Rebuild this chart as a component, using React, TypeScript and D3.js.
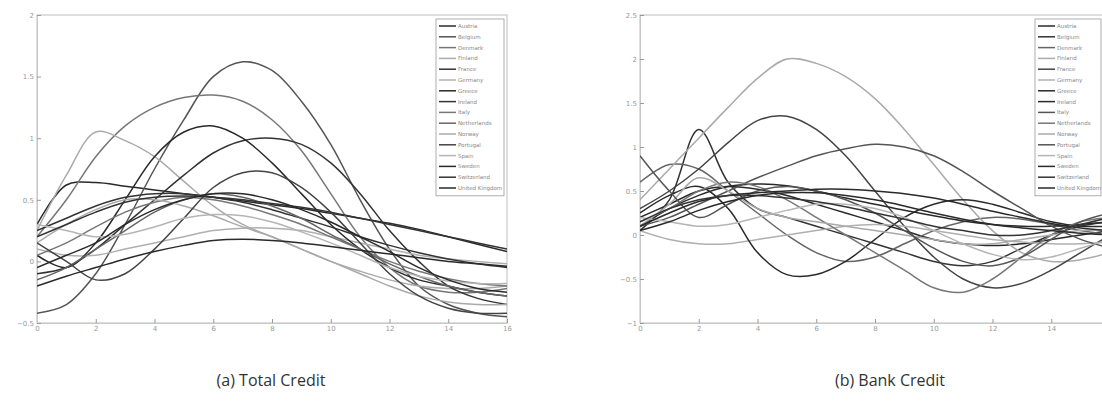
import React, { useRef, useEffect } from 'react';
import * as d3 from 'd3';

const countries = ['Austria', 'Belgium', 'Denmark', 'Finland', 'France', 'Germany', 'Greece', 'Ireland',
  'Italy', 'Netherlands', 'Norway', 'Portugal', 'Spain', 'Sweden', 'Switzerland', 'United Kingdom'];
const horizon = d3.range(0, 17);
const totalXTicks = [0, 2, 4, 6, 8, 10, 12, 14, 16];
const bankXTicks = [0, 2, 4, 6, 8, 10, 12, 14];
const totalYTicks = [-0.5, 0, 0.5, 1, 1.5, 2];
const bankYTicks = [-1, -0.5, 0, 0.5, 1, 1.5, 2, 2.5];

// (a) Total Credit, one value per quarter 0..16
const tcAustria = [0.3, 0.62, 0.64, 0.61, 0.58, 0.55, 0.52, 0.49, 0.46, 0.43, 0.39, 0.35, 0.31, 0.26, 0.2, 0.14, 0.08];
const tcBelgium = [-0.42, -0.35, -0.1, 0.3, 0.75, 1.15, 1.5, 1.62, 1.55, 1.3, 0.95, 0.5, 0.1, -0.2, -0.35, -0.42, -0.45];
const tcDenmark = [0.2, 0.5, 0.85, 1.1, 1.25, 1.33, 1.35, 1.3, 1.15, 0.9, 0.55, 0.2, -0.05, -0.2, -0.25, -0.25, -0.22];
const tcFinland = [0.25, 0.7, 1.05, 0.98, 0.85, 0.65, 0.45, 0.3, 0.2, 0.1, 0.0, -0.08, -0.15, -0.2, -0.22, -0.22, -0.2];
const tcFrance = [-0.1, -0.05, 0.1, 0.3, 0.5, 0.7, 0.88, 0.98, 1.0, 0.95, 0.8, 0.55, 0.25, 0.0, -0.2, -0.3, -0.35];
const tcGermany = [0.1, 0.05, 0.05, 0.1, 0.15, 0.2, 0.25, 0.27, 0.27, 0.25, 0.2, 0.15, 0.1, 0.05, 0.02, 0.0, -0.02];
const tcGreece = [0.05, -0.05, 0.15, 0.5, 0.85, 1.05, 1.1, 1.0, 0.8, 0.55, 0.3, 0.1, -0.05, -0.15, -0.2, -0.25, -0.28];
const tcIreland = [0.25, 0.35, 0.45, 0.52, 0.55, 0.55, 0.52, 0.48, 0.42, 0.35, 0.28, 0.2, 0.13, 0.07, 0.02, -0.02, -0.05];
const tcItaly = [0.05, 0.15, 0.28, 0.4, 0.48, 0.52, 0.5, 0.45, 0.38, 0.3, 0.2, 0.1, 0.0, -0.08, -0.14, -0.18, -0.2];
const tcNetherlands = [-0.15, -0.05, 0.1, 0.25, 0.4, 0.5, 0.55, 0.52, 0.45, 0.35, 0.22, 0.1, -0.02, -0.12, -0.2, -0.25, -0.28];
const tcNorway = [0.15, 0.3, 0.42, 0.5, 0.5, 0.45, 0.37, 0.28, 0.2, 0.1, 0.0, -0.1, -0.2, -0.28, -0.33, -0.35, -0.35];
const tcPortugal = [0.15, 0.0, -0.15, -0.1, 0.1, 0.35, 0.6, 0.72, 0.72, 0.6, 0.4, 0.15, -0.1, -0.28, -0.38, -0.42, -0.42];
const tcSpain = [0.3, 0.25, 0.2, 0.22, 0.28, 0.35, 0.38, 0.37, 0.32, 0.24, 0.15, 0.05, -0.05, -0.12, -0.16, -0.18, -0.18];
const tcSweden = [-0.2, -0.12, -0.05, 0.02, 0.08, 0.13, 0.17, 0.18, 0.17, 0.15, 0.12, 0.09, 0.06, 0.03, 0.0, -0.02, -0.04];
const tcSwitzerland = [0.2, 0.3, 0.4, 0.48, 0.52, 0.53, 0.52, 0.5, 0.47, 0.44, 0.4, 0.35, 0.3, 0.25, 0.2, 0.15, 0.1];
const tcUK = [-0.05, 0.05, 0.15, 0.3, 0.42, 0.5, 0.55, 0.55, 0.5, 0.42, 0.32, 0.2, 0.08, -0.05, -0.15, -0.22, -0.25];

// (b) Bank Credit
const bcAustria = [0.2, 0.35, 0.5, 0.55, 0.52, 0.45, 0.35, 0.25, 0.15, 0.05, -0.05, -0.1, -0.12, -0.1, -0.05, 0.0, 0.05];
const bcBelgium = [0.05, 0.4, 1.2, 0.6, 0.3, 0.2, 0.1, 0.0, -0.1, -0.2, -0.3, -0.35, -0.3, -0.15, 0.0, 0.1, 0.15];
const bcDenmark = [0.6, 0.8, 0.75, 0.5, 0.25, 0.0, -0.2, -0.3, -0.25, -0.1, 0.05, 0.15, 0.2, 0.18, 0.12, 0.05, 0.0];
const bcFinland = [0.4, 0.75, 1.1, 1.45, 1.78, 2.0, 1.95, 1.8, 1.55, 1.2, 0.8, 0.4, 0.05, -0.2, -0.3, -0.28, -0.2];
const bcFrance = [0.3, 0.5, 0.75, 1.05, 1.3, 1.35, 1.2, 0.9, 0.5, 0.1, -0.25, -0.5, -0.6, -0.55, -0.4, -0.2, 0.0];
const bcGermany = [0.05, -0.05, -0.1, -0.1, -0.05, 0.0, 0.05, 0.1, 0.12, 0.1, 0.05, 0.0, -0.05, -0.08, -0.1, -0.1, -0.08];
const bcGreece = [0.25, 0.45, 0.55, 0.3, -0.2, -0.45, -0.45, -0.3, -0.05, 0.2, 0.35, 0.4, 0.35, 0.25, 0.15, 0.1, 0.1];
const bcIreland = [0.1, 0.3, 0.45, 0.55, 0.58, 0.56, 0.5, 0.42, 0.35, 0.28, 0.22, 0.16, 0.12, 0.1, 0.1, 0.12, 0.15];
const bcItaly = [0.1, 0.2, 0.35, 0.5, 0.65, 0.78, 0.9, 0.98, 1.03, 1.0, 0.9, 0.72, 0.5, 0.3, 0.1, -0.05, -0.15];
const bcNetherlands = [0.15, 0.3, 0.5, 0.6, 0.55, 0.4, 0.2, 0.0, -0.2, -0.4, -0.6, -0.65, -0.5, -0.25, 0.0, 0.15, 0.2];
const bcNorway = [0.1, 0.35, 0.65, 0.5, 0.3, 0.2, 0.15, 0.1, 0.05, 0.0, -0.05, -0.1, -0.1, -0.05, 0.0, 0.05, 0.05];
const bcPortugal = [0.9, 0.5, 0.2, 0.35, 0.5, 0.55, 0.5, 0.4, 0.25, 0.05, -0.15, -0.3, -0.35, -0.25, -0.05, 0.15, 0.25];
const bcSpain = [0.2, 0.15, 0.1, 0.12, 0.2, 0.28, 0.35, 0.35, 0.3, 0.2, 0.05, -0.1, -0.22, -0.28, -0.25, -0.15, -0.05];
const bcSweden = [0.1, 0.25, 0.38, 0.45, 0.48, 0.5, 0.52, 0.52, 0.5, 0.47, 0.42, 0.35, 0.27, 0.2, 0.13, 0.08, 0.05];
const bcSwitzerland = [0.15, 0.3, 0.4, 0.45, 0.45, 0.42, 0.38, 0.32, 0.25, 0.18, 0.1, 0.05, 0.0, 0.0, 0.05, 0.12, 0.2];
const bcUK = [0.05, 0.15, 0.28, 0.38, 0.45, 0.48, 0.48, 0.45, 0.4, 0.33, 0.25, 0.18, 0.12, 0.08, 0.05, 0.02, 0.0];

const totalSeries = [tcAustria, tcBelgium, tcDenmark, tcFinland, tcFrance, tcGermany, tcGreece, tcIreland,
  tcItaly, tcNetherlands, tcNorway, tcPortugal, tcSpain, tcSweden, tcSwitzerland, tcUK];
const bankSeries = [bcAustria, bcBelgium, bcDenmark, bcFinland, bcFrance, bcGermany, bcGreece, bcIreland,
  bcItaly, bcNetherlands, bcNorway, bcPortugal, bcSpain, bcSweden, bcSwitzerland, bcUK];

const totalShades = ['#2a2a2a', '#555', '#777', '#aaa', '#333', '#b0b0b0', '#2a2a2a', '#333',
  '#777', '#666', '#aaa', '#444', '#b5b5b5', '#2a2a2a', '#333', '#2a2a2a'];
const bankShades = ['#2a2a2a', '#333', '#666', '#aaa', '#444', '#b0b0b0', '#2a2a2a', '#2a2a2a',
  '#555', '#777', '#aaa', '#555', '#b5b5b5', '#2a2a2a', '#333', '#2a2a2a'];

const drawPanel = (svg, opt) => {
  const { left, top, width, height, yDomain, xTicks, yTicks, series, shades, legendX, legendW, caption, captionX } = opt;
  const g = svg.append('g');
  const x = d3.scaleLinear().domain([0, 16]).range([left, left + width]);
  const y = d3.scaleLinear().domain(yDomain).range([top + height, top]);

  g.append('rect')
    .attr('x', left).attr('y', top).attr('width', width).attr('height', height)
    .attr('fill', 'none').attr('stroke', '#c8c8c8').attr('stroke-width', 1.2);

  const fmt = d3.format('~g');
  const xAxis = g.append('g')
    .attr('transform', `translate(0,${top + height})`)
    .call(d3.axisBottom(x).tickValues(xTicks).tickFormat(fmt).tickSizeInner(-4).tickSizeOuter(0).tickPadding(3));
  const yAxis = g.append('g')
    .attr('transform', `translate(${left},0)`)
    .call(d3.axisLeft(y).tickValues(yTicks).tickFormat(fmt).tickSizeInner(-4).tickSizeOuter(0).tickPadding(3));
  [xAxis, yAxis].forEach(a => {
    a.select('.domain').attr('stroke', '#c8c8c8');
    a.selectAll('line').attr('stroke', '#999');
    a.selectAll('text').attr('fill', '#999').style('font-size', '7px').style('font-family', 'DejaVu Sans');
  });

  const line = d3.line()
    .x((d, i) => x(horizon[i]))
    .y(d => y(d))
    .curve(d3.curveCatmullRom.alpha(0.5));

  const clipId = 'clip' + Math.round(left);
  svg.append('clipPath').attr('id', clipId)
    .append('rect').attr('x', left).attr('y', top).attr('width', width).attr('height', height);

  g.append('g').attr('clip-path', `url(#${clipId})`)
    .selectAll('path')
    .data(series)
    .enter()
    .append('path')
    .attr('d', d => line(d))
    .attr('fill', 'none')
    .attr('stroke', (d, i) => shades[i])
    .attr('stroke-width', 1.5);

  // legend
  const rowH = 10.8;
  const ly = top + 4;
  const lh = rowH * countries.length + 4;
  g.append('rect')
    .attr('x', legendX).attr('y', ly).attr('width', legendW).attr('height', lh)
    .attr('fill', '#fff').attr('stroke', '#999').attr('stroke-width', 0.8);
  const rows = g.append('g').selectAll('g')
    .data(countries)
    .enter()
    .append('g')
    .attr('transform', (d, i) => `translate(${legendX + 3},${ly + 7 + i * rowH})`);
  rows.append('line')
    .attr('x1', 0).attr('x2', 17)
    .attr('stroke', (d, i) => shades[i])
    .attr('stroke-width', 1.5);
  rows.append('text')
    .attr('x', 19).attr('dy', '0.35em')
    .attr('fill', '#888')
    .style('font-size', '5.5px')
    .style('font-family', 'DejaVu Sans')
    .text(d => d);

  svg.append('text')
    .attr('x', captionX).attr('y', 386)
    .attr('text-anchor', 'middle')
    .attr('fill', '#333')
    .style('font-size', '16px')
    .style('font-family', 'Open Sans')
    .text(caption);
};

const App = () => {
  const ref = useRef(null);

  useEffect(() => {
    const svg = d3.select(ref.current);
    svg.selectAll('*').remove();

    drawPanel(svg, {
      left: 37, top: 15, width: 470, height: 308,
      yDomain: [-0.5, 2], xTicks: totalXTicks, yTicks: totalYTicks,
      series: totalSeries, shades: totalShades,
      legendX: 436, legendW: 68,
      caption: '(a) Total Credit', captionX: 271
    });
    drawPanel(svg, {
      left: 640, top: 15, width: 470, height: 308,
      yDomain: [-1, 2.5], xTicks: bankXTicks, yTicks: bankYTicks,
      series: bankSeries, shades: bankShades,
      legendX: 1035, legendW: 66,
      caption: '(b) Bank Credit', captionX: 890
    });
  }, []);

  return (
    <svg ref={ref} width={1102} height={407}
      style={{ position: 'absolute', left: 0, top: 0, background: '#fff' }} />
  );
};

export default App;
